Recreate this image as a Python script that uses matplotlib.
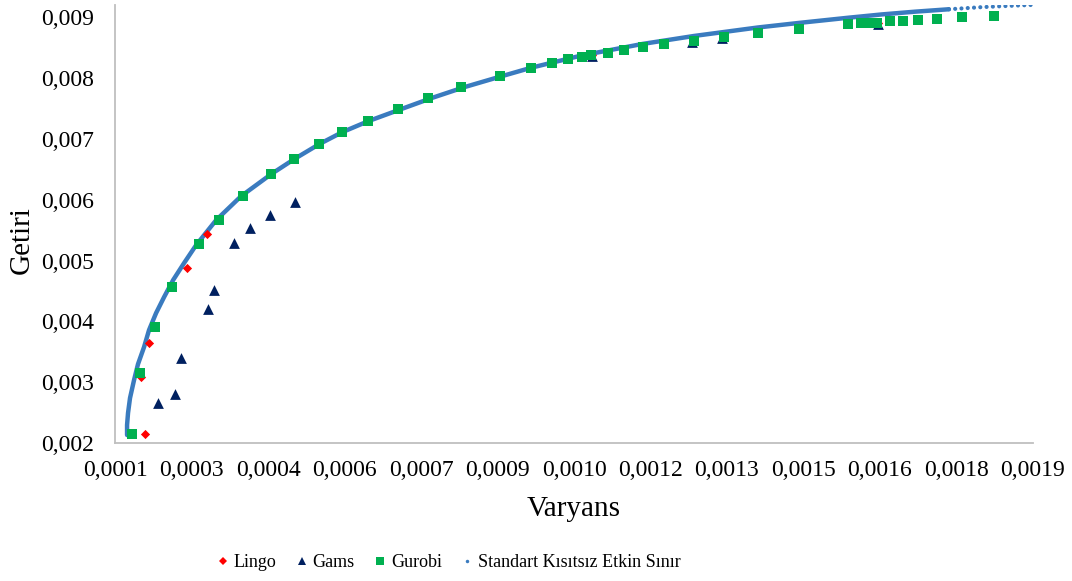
import numpy as np
import matplotlib.pyplot as plt
from matplotlib.lines import Line2D

plt.rcParams['font.family'] = ['Liberation Serif', 'DejaVu Serif']

# Lingo results (variance, return)
lingo_var = [0.0001589, 0.0001510, 0.0001667, 0.0002413, 0.0002806,
             0.0010350, 0.0012920, 0.0015965]
lingo_ret = [0.002148, 0.003084, 0.003643, 0.004875, 0.005434,
             0.008378, 0.008665, 0.008905]

# Gams results
gams_var = [0.0001844, 0.0002178, 0.0002296, 0.0002826, 0.0002943, 0.0003336,
            0.0003650, 0.0004043, 0.0004533, 0.0010348, 0.0012310, 0.0012910,
            0.0015960]
gams_ret = [0.002657, 0.002805, 0.003397, 0.004202, 0.004514, 0.005286,
            0.005533, 0.005746, 0.005960, 0.008365, 0.008585, 0.008650,
            0.008895]

# Gurobi results
gurobi_var = [0.0001334, 0.0001491, 0.0001785, 0.0002119, 0.0002649, 0.0003042,
              0.0003513, 0.0004062, 0.0004514, 0.0005005, 0.0005456, 0.0005966,
              0.0006555, 0.0007144, 0.0007792, 0.0008558, 0.0009166, 0.0009578,
              0.0009892, 0.0010148, 0.0010324, 0.0010658, 0.0010972, 0.0011345,
              0.0011757, 0.0012346, 0.0012935, 0.0013602, 0.0014407, 0.0015369,
              0.0015624, 0.0015821, 0.0015938, 0.0016194, 0.0016449, 0.0016743,
              0.0017116, 0.0017607, 0.0018235]
gurobi_ret = [0.002148, 0.003150, 0.003906, 0.004563, 0.005270, 0.005664,
              0.006058, 0.006420, 0.006666, 0.006913, 0.007110, 0.007291,
              0.007488, 0.007669, 0.007849, 0.008030, 0.008162, 0.008244,
              0.008310, 0.008342, 0.008375, 0.008408, 0.008457, 0.008507,
              0.008556, 0.008605, 0.008671, 0.008737, 0.008802, 0.008885,
              0.008901, 0.008901, 0.008901, 0.008934, 0.008934, 0.008950,
              0.008967, 0.009000, 0.009016]

# Unconstrained efficient frontier
front_var = [0.0001236, 0.0001236, 0.0001255, 0.0001294, 0.0001373, 0.0001451,
             0.0001569, 0.0001667, 0.0001805, 0.0001962, 0.0002139, 0.0002354,
             0.0002590, 0.0002983, 0.0003473, 0.0004062, 0.0004514, 0.0005005,
             0.0005456, 0.0005967, 0.0006556, 0.0007203, 0.0007851, 0.0008518,
             0.0009166, 0.0010148, 0.0011345, 0.0012346, 0.0013602, 0.0014407,
             0.0015369, 0.0016036, 0.0016684, 0.0017351, 0.0017999, 0.0018647,
             0.0019040]
front_ret = [0.002131, 0.002296, 0.002493, 0.002739, 0.003035, 0.003298,
             0.003577, 0.003857, 0.004136, 0.004399, 0.004678, 0.004958,
             0.005253, 0.005664, 0.006058, 0.006420, 0.006667, 0.006913,
             0.007110, 0.007291, 0.007472, 0.007669, 0.007850, 0.008014,
             0.008170, 0.008370, 0.008560, 0.008690, 0.008830, 0.008905,
             0.008990, 0.009045, 0.009090, 0.009130, 0.009165, 0.009190,
             0.009203]

x_ticks = [0.0001 + 0.00015 * k for k in range(13)]
x_labels = ['0,0001', '0,0003', '0,0004', '0,0006', '0,0007', '0,0009', '0,0010',
            '0,0012', '0,0013', '0,0015', '0,0016', '0,0018', '0,0019']
y_ticks = [0.002, 0.003, 0.004, 0.005, 0.006, 0.007, 0.008, 0.009]
y_labels = ['0,002', '0,003', '0,004', '0,005', '0,006', '0,007', '0,008', '0,009']

BLUE = '#3a7bbf'
fig = plt.figure(figsize=(10.72, 5.81), dpi=100)
ax = fig.add_axes([0.1073, 0.2375, 0.8563, 0.7539])

fv = np.array(front_var)
fr = np.array(front_ret)
solid = fv <= 0.00176
ax.plot(fv[solid], fr[solid], color=BLUE, lw=3.2, solid_capstyle='round', zorder=2)
# the far end thins out into separate dots
tail = fv >= 0.00173
ax.plot(fv[tail], fr[tail], color=BLUE, lw=3.0, ls=(0, (0.01, 1.5)),
        dash_capstyle='round', zorder=2)

ax.scatter(lingo_var, lingo_ret, marker='D', s=22, color='#ff0000', lw=0, zorder=3)
ax.scatter(gams_var, gams_ret, marker='^', s=60, color='#002060', lw=0, zorder=3)
ax.scatter(gurobi_var, gurobi_ret, marker='s', s=60, color='#00b050', lw=0, zorder=4)

ax.set_xlim(0.0001, 0.0019)
ax.set_ylim(0.002, 0.0092)
ax.set_xticks(x_ticks)
ax.set_xticklabels(x_labels)
ax.set_yticks(y_ticks)
ax.set_yticklabels(y_labels)
ax.tick_params(axis='both', length=0, labelsize=17)
ax.tick_params(axis='x', pad=12)
ax.tick_params(axis='y', pad=15)

for side in ['top', 'right']:
    ax.spines[side].set_visible(False)
for side in ['left', 'bottom']:
    ax.spines[side].set_color('#bfbfbf')
    ax.spines[side].set_linewidth(1.3)

ax.set_xlabel('Varyans', fontsize=21, labelpad=11)
ax.set_ylabel('Getiri', fontsize=21)
ax.yaxis.set_label_coords(-0.087, 0.463)

handles = [
    Line2D([], [], ls='none', marker='D', ms=4, color='#ff0000', mew=0),
    Line2D([], [], ls='none', marker='^', ms=6, color='#002060', mew=0),
    Line2D([], [], ls='none', marker='s', ms=6, color='#00b050', mew=0),
    Line2D([], [], ls='none', marker='o', ms=2.5, color=BLUE, mew=0),
]
labels = ['Lingo', 'Gams', 'Gurobi', 'Standart Kısıtsız Etkin Sınır']
fig.legend(handles, labels, loc='center', bbox_to_anchor=(0.419, 0.032), ncol=4,
           frameon=False, fontsize=13, handlelength=0.6, handletextpad=0.3,
           columnspacing=1.1)

fig.savefig('out.png', dpi=100)
